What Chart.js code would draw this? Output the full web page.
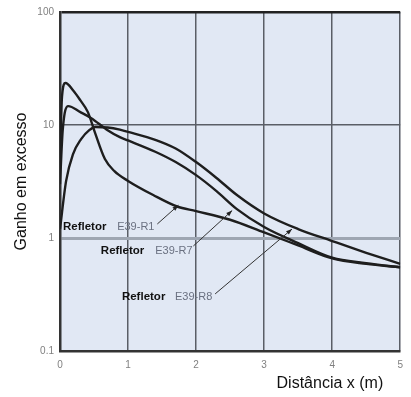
<!DOCTYPE html>
<html><head><meta charset="utf-8">
<script src="https://cdn.jsdelivr.net/npm/chart.js@4/dist/chart.umd.min.js"></script>
<style>html,body{margin:0;padding:0;background:#fff;}#wrap{width:411px;height:397px;}</style>
</head><body><div id="wrap"><canvas id="c" width="411" height="397"></canvas></div>
<script>
// ---- data ----
const xR1 = [0, 0.03, 0.08, 0.2, 0.3, 0.41, 0.51, 0.66, 0.8, 1.0, 1.37, 1.72, 2.0, 2.5, 3.0, 3.5, 4.0, 4.5, 5];
const yR1 = [5, 18, 23.5, 20, 16.5, 13, 8.7, 5.0, 3.9, 3.2, 2.4, 1.9, 1.73, 1.45, 1.12, 0.86, 0.66, 0.59, 0.55];
const xR7 = [0, 0.04, 0.12, 0.3, 0.46, 0.7, 0.88, 1.0, 1.4, 1.7, 2.0, 2.3, 2.6, 3.0, 3.5, 4.0, 4.5, 5];
const yR7 = [3, 9, 14.7, 13, 11.5, 9.0, 7.8, 7.3, 5.8, 4.7, 3.6, 2.6, 1.8, 1.25, 0.9, 0.67, 0.6, 0.55];
const xR8 = [0, 0.09, 0.19, 0.31, 0.43, 0.52, 0.7, 0.88, 1.0, 1.4, 1.7, 2.0, 2.3, 2.6, 3.0, 3.5, 4.0, 4.5, 5];
const yR8 = [1.2, 3.2, 5.5, 7.5, 9.0, 9.6, 9.5, 9.1, 8.7, 7.4, 6.2, 4.7, 3.4, 2.4, 1.65, 1.2, 0.94, 0.74, 0.59];
const seriesNames = ['E39-R1', 'E39-R7', 'E39-R8'];
const yTickValues = [0.1, 1, 10, 100];
const yTickLabels = ['0.1', '1', '10', '100'];
const xTickValues = [0, 1, 2, 3, 4, 5];
const xTitle = 'Distância x (m)';
const yTitle = 'Ganho em excesso';
const labelWord = 'Refletor';

function pts(xs, ys){ return xs.map((x,i)=>({x:x, y:ys[i]})); }

// annotation placements (data coordinates)
const notes = [
  {name: seriesNames[0], tx: 0.044, ty: 1.25, nx: 0.84, ax0: 1.43, ay0: 1.33, ax1: 1.74, ay1: 1.95},
  {name: seriesNames[1], tx: 0.60, ty: 0.77, nx: 1.40, ax0: 1.96, ay0: 0.85, ax1: 2.53, ay1: 1.75},
  {name: seriesNames[2], tx: 0.91, ty: 0.30, nx: 1.69, ax0: 2.28, ay0: 0.32, ax1: 3.41, ay1: 1.2}
];

const bgPlugin = {
  id: 'bg',
  beforeDraw(chart){
    const a = chart.chartArea, ctx = chart.ctx;
    ctx.save(); ctx.fillStyle = '#e1e8f4';
    ctx.fillRect(a.left, a.top, a.right - a.left, a.bottom - a.top);
    ctx.restore();
  }
};

const notePlugin = {
  id: 'notes',
  afterDatasetsDraw(chart){
    const ctx = chart.ctx, xs = chart.scales.x, ys = chart.scales.y, a = chart.chartArea;
    ctx.save();
    notes.forEach(n => {
      const py = ys.getPixelForValue(n.ty);
      ctx.textBaseline = 'middle'; ctx.textAlign = 'left';
      ctx.font = 'bold 11.5px "Liberation Sans", Arial, sans-serif';
      ctx.fillStyle = '#111';
      ctx.fillText(labelWord, xs.getPixelForValue(n.tx), py);
      ctx.font = '11px "Liberation Sans", Arial, sans-serif';
      ctx.fillStyle = '#6a7080';
      ctx.fillText(n.name, xs.getPixelForValue(n.nx), py);
      const x0 = xs.getPixelForValue(n.ax0), y0 = ys.getPixelForValue(n.ay0);
      const x1 = xs.getPixelForValue(n.ax1), y1 = ys.getPixelForValue(n.ay1);
      ctx.strokeStyle = '#333'; ctx.lineWidth = 1;
      ctx.beginPath(); ctx.moveTo(x0, y0); ctx.lineTo(x1, y1); ctx.stroke();
      const ang = Math.atan2(y1 - y0, x1 - x0), L = 6, W = 2.2;
      ctx.fillStyle = '#222';
      ctx.beginPath();
      ctx.moveTo(x1, y1);
      ctx.lineTo(x1 - L*Math.cos(ang) + W*Math.sin(ang), y1 - L*Math.sin(ang) - W*Math.cos(ang));
      ctx.lineTo(x1 - L*Math.cos(ang) - W*Math.sin(ang), y1 - L*Math.sin(ang) + W*Math.cos(ang));
      ctx.closePath(); ctx.fill();
    });
    // x axis title, right-aligned slightly inside the plot's right edge
    ctx.font = '16px "Liberation Sans", Arial, sans-serif';
    ctx.fillStyle = '#111'; ctx.textAlign = 'right'; ctx.textBaseline = 'middle';
    ctx.fillText(xTitle, a.right - 17, a.bottom + 33);
    ctx.restore();
  }
};

const lineStyle = {borderColor:'#1e1e1e', borderWidth:2.4, pointRadius:0, fill:false, showLine:true, cubicInterpolationMode:'monotone'};

new Chart(document.getElementById('c'), {
  type: 'scatter',
  data: {
    datasets: [
      Object.assign({label: seriesNames[0], data: pts(xR1, yR1)}, lineStyle),
      Object.assign({label: seriesNames[1], data: pts(xR7, yR7)}, lineStyle),
      Object.assign({label: seriesNames[2], data: pts(xR8, yR8)}, lineStyle)
    ]
  },
  options: {
    responsive: false, animation: false,
    layout: {padding: {left: 6, right: 10, top: 9, bottom: 0}},
    plugins: {legend: {display: false}, tooltip: {enabled: false}},
    scales: {
      x: {
        type: 'linear', min: 0, max: 5,
        afterBuildTicks(s){ s.ticks = xTickValues.map(v => ({value: v})); },
        afterFit(s){ s.height = 46; },
        ticks: {color: '#808080', font: {size: 10, family: '"Liberation Sans", Arial'}, padding: 8, callback: v => String(v)},
        grid: {color: '#5a5e66', lineWidth: 1.5, drawTicks: false},
        border: {display: true, color: '#333', width: 2.5},
        title: {display: false}
      },
      y: {
        type: 'logarithmic', min: 0.1, max: 100,
        afterBuildTicks(s){ s.ticks = yTickValues.map(v => ({value: v})); },
        afterFit(s){ s.width = 54; },
        ticks: {color: '#808080', font: {size: 10, family: '"Liberation Sans", Arial'}, padding: 6,
          callback: (v) => { const i = yTickValues.indexOf(v); return i >= 0 ? yTickLabels[i] : ''; }},
        grid: {drawTicks: false,
          color: c => (c.tick && c.tick.value === 1) ? '#9ea6b2' : (c.tick && c.tick.value === 100 ? '#222' : '#5a5e66'),
          lineWidth: c => (c.tick && c.tick.value === 1) ? 3 : (c.tick && c.tick.value === 100 ? 2.5 : 1.5)},
        border: {display: true, color: '#333', width: 2.5},
        title: {display: true, text: yTitle, color: '#111', font: {size: 16, family: '"Liberation Sans", Arial'}, padding: {top: 6, bottom: 0}}
      }
    }
  },
  plugins: [bgPlugin, notePlugin]
});
</script></body></html>
